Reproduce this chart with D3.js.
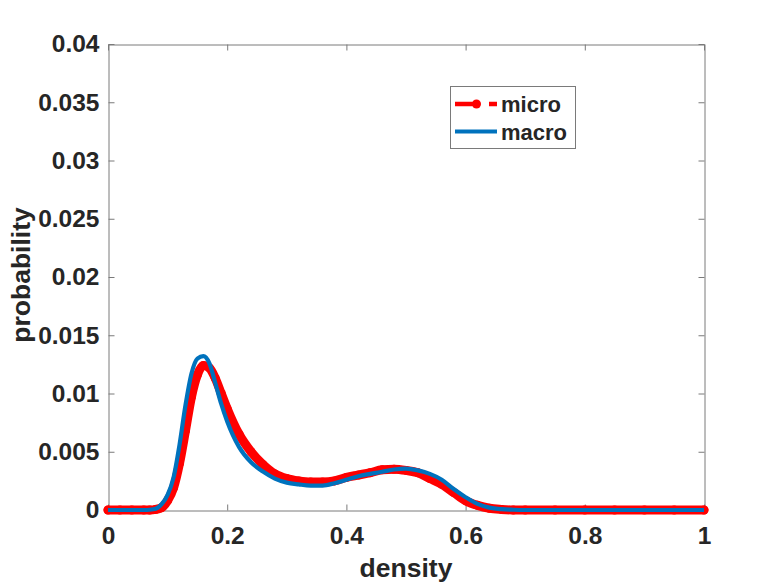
<!DOCTYPE html>
<html>
<head>
<meta charset="utf-8">
<script src="https://cdn.jsdelivr.net/npm/d3@7"></script>
<style>
  html, body { margin: 0; padding: 0; background: #fff; }
  svg { display: block; }
  text { font-family: "Liberation Sans", Arial, Helvetica, sans-serif; font-weight: bold; fill: #262626; }
</style>
</head>
<body>
<svg id="chart" width="778" height="584"></svg>
<script>
// ---- data ----
const density = [0, 0.02, 0.04, 0.06, 0.07, 0.08, 0.09, 0.10, 0.11, 0.12, 0.13, 0.14, 0.15, 0.16, 0.17, 0.18, 0.19, 0.20,
                 0.22, 0.24, 0.26, 0.28, 0.30, 0.32, 0.34, 0.36, 0.38, 0.40, 0.42, 0.44, 0.46, 0.48, 0.50, 0.52, 0.54,
                 0.56, 0.58, 0.60, 0.62, 0.64, 0.66, 0.68, 0.70, 0.75, 0.80, 0.85, 0.90, 0.95, 1.00];
const macro = [0, 0, 0, 0, 0.00002, 0.0001, 0.0005, 0.0013, 0.0028, 0.0056, 0.0090, 0.0117, 0.0130, 0.0132, 0.0126, 0.0109, 0.0091, 0.0076,
               0.0054, 0.0041, 0.0033, 0.0027, 0.00235, 0.0022, 0.0021, 0.0021, 0.0023, 0.0026, 0.0029, 0.0031, 0.00328, 0.00348, 0.00356, 0.0034, 0.0031,
               0.0026, 0.0018, 0.0011, 0.00052, 0.0002, 0.00007, 0.00002, 0, 0, 0, 0, 0, 0, 0];
const micro = [0, 0, 0, 0, 0, 0.00005, 0.0002, 0.0008, 0.0019, 0.0040, 0.0068, 0.0097, 0.0116, 0.0124, 0.0122, 0.0113, 0.0100, 0.0087,
               0.0065, 0.0050, 0.0039, 0.0031, 0.0027, 0.0025, 0.0024, 0.0024, 0.0025, 0.0028, 0.0030, 0.0032, 0.00345, 0.0035, 0.0034, 0.0032, 0.0027,
               0.0022, 0.0015, 0.0008, 0.0004, 0.00015, 0.00005, 0, 0, 0, 0, 0, 0, 0, 0];
const xTicks = [0, 0.2, 0.4, 0.6, 0.8, 1];
const xTickLabels = ["0", "0.2", "0.4", "0.6", "0.8", "1"];
const yTicks = [0, 0.005, 0.01, 0.015, 0.02, 0.025, 0.03, 0.035, 0.04];
const yTickLabels = ["0", "0.005", "0.01", "0.015", "0.02", "0.025", "0.03", "0.035", "0.04"];
const seriesNames = ["micro", "macro"];
const xLabel = "density";
const yLabel = "probability";

// ---- layout ----
const L = 108, R = 704, T = 44, B = 510;
const svg = d3.select("#chart");
const x = d3.scaleLinear().domain([0, 1]).range([L, R]);
const y = d3.scaleLinear().domain([0, 0.04]).range([B, T]);

const axisColor = "#7a7a7a";
const tickFont = "24.5px";

function styleAxis(g) {
  g.select(".domain").attr("stroke", axisColor).attr("stroke-width", 1);
  g.selectAll(".tick line").attr("stroke", axisColor).attr("stroke-width", 1);
  g.selectAll(".tick text").style("font-size", tickFont).attr("fill", "#262626")
    .style("font-family", '"Liberation Sans", Arial, sans-serif').style("font-weight", "bold");
}

// mirrored axes (top and right) without labels
svg.append("g").attr("transform", `translate(0,${T + 0.5})`)
  .call(d3.axisTop(x).tickValues(xTicks).tickSizeInner(-6).tickSizeOuter(0).tickFormat(""))
  .call(styleAxis);
svg.append("g").attr("transform", `translate(${R + 0.5},0)`)
  .call(d3.axisRight(y).tickValues(yTicks).tickSizeInner(-6).tickSizeOuter(0).tickFormat(""))
  .call(styleAxis);

// bottom and left axes
svg.append("g").attr("transform", `translate(0,${B + 0.5})`)
  .call(d3.axisBottom(x).tickValues(xTicks).tickSizeInner(-6).tickSizeOuter(0).tickPadding(16)
        .tickFormat((d, i) => xTickLabels[i]))
  .call(styleAxis);
svg.append("g").attr("transform", `translate(${L + 0.5},0)`)
  .call(d3.axisLeft(y).tickValues(yTicks).tickSizeInner(-6).tickSizeOuter(0).tickPadding(9)
        .tickFormat((d, i) => yTickLabels[i]))
  .call(styleAxis);

// ---- series ----
const microData = density.map((d, i) => ({ x: d, y: micro[i] }));
const macroData = density.map((d, i) => ({ x: d, y: macro[i] }));
const line = d3.line().x(d => x(d.x)).y(d => y(d.y)).curve(d3.curveMonotoneX);

svg.append("path").datum(microData).attr("d", line)
  .attr("fill", "none").attr("stroke", "#ff0000").attr("stroke-width", 9)
  .attr("stroke-linecap", "round").attr("stroke-linejoin", "round");
svg.append("g").selectAll("circle").data(microData).join("circle")
  .attr("cx", d => x(d.x)).attr("cy", d => y(d.y)).attr("r", 4.5).attr("fill", "#ff0000");

svg.append("path").datum(macroData).attr("d", line)
  .attr("fill", "none").attr("stroke", "#0072bd").attr("stroke-width", 4.2)
  .attr("stroke-linejoin", "round");

// ---- axis labels ----
svg.append("text").attr("x", (L + R) / 2).attr("y", 577).attr("text-anchor", "middle")
  .style("font-size", "26.5px").text(xLabel);
svg.append("text").attr("transform", "translate(30,275) rotate(-90)").attr("text-anchor", "middle")
  .style("font-size", "26.5px").text(yLabel);

// ---- legend ----
const lg = svg.append("g");
lg.append("rect").attr("x", 450.5).attr("y", 86.5).attr("width", 125).attr("height", 62)
  .attr("fill", "#fff").attr("stroke", axisColor).attr("stroke-width", 1);
lg.append("line").attr("x1", 455).attr("x2", 497).attr("y1", 104).attr("y2", 104)
  .attr("stroke", "#ff0000").attr("stroke-width", 4.5).attr("stroke-dasharray", "24,10,8");
lg.append("circle").attr("cx", 476.5).attr("cy", 104).attr("r", 4.5).attr("fill", "#ff0000");
lg.append("line").attr("x1", 455).attr("x2", 497).attr("y1", 131.5).attr("y2", 131.5)
  .attr("stroke", "#0072bd").attr("stroke-width", 4.2);
lg.append("text").attr("x", 501).attr("y", 112).style("font-size", "22px").text(seriesNames[0]);
lg.append("text").attr("x", 501).attr("y", 140).style("font-size", "22px").text(seriesNames[1]);
</script>
</body>
</html>
